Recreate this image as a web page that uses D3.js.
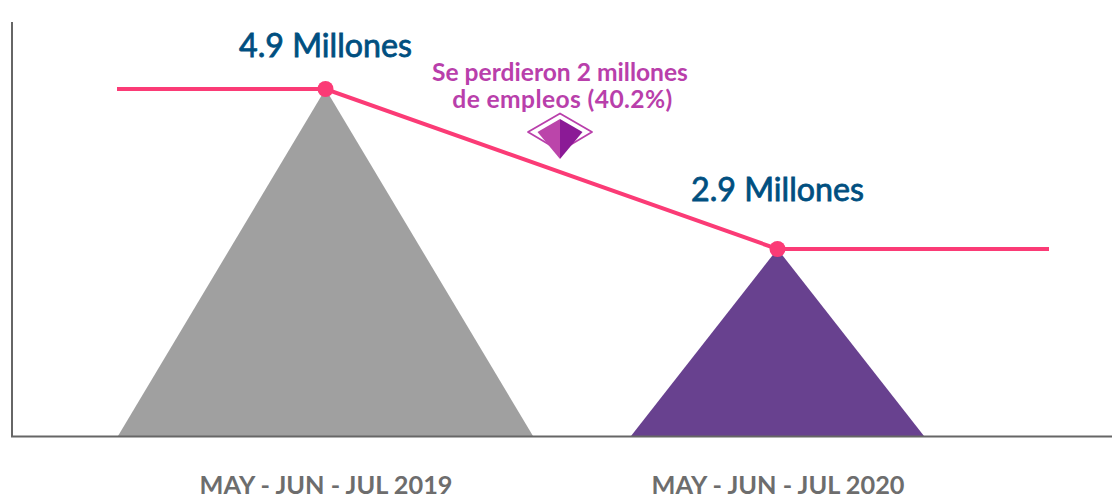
<!DOCTYPE html>
<html lang="es">
<head>
<meta charset="utf-8">
<script src="https://cdn.jsdelivr.net/npm/d3@7/dist/d3.min.js"></script>
<style>
html, body { margin: 0; padding: 0; background: #fff; }
svg { display: block; font-family: Lato, sans-serif; }
</style>
</head>
<body>
<svg id="chart" width="1112" height="494"></svg>
<script>
// Employment in millions for the two compared quarters
const periods = ["MAY - JUN - JUL 2019", "MAY - JUN - JUL 2020"];
const employment = [4.9, 2.9];
const valueLabels = ["4.9 Millones", "2.9 Millones"];
const triangleColors = ["#a0a0a0", "#68418f"];
const noteLines = ["Se perdieron 2 millones", "de empleos (40.2%)"];

const svg = d3.select("#chart");

const x = d3.scalePoint().domain(periods).range([325.5, 777.5]);
// The vertical axis is truncated, so its origin sits above zero
const y = d3.scaleLinear().domain([0.5625, 4.9]).range([436, 89]);
const baseWidth = d3.scaleLinear().domain([2.9, 4.9]).range([293, 415]);

const rows = periods.map((period, i) => ({
  period, value: employment[i], label: valueLabels[i], color: triangleColors[i]
}));

// Triangles rising from the baseline to each value
const triangle = d3.line();
svg.append("g").selectAll("path").data(rows).join("path")
  .attr("fill", d => d.color)
  .attr("d", d => {
    const half = baseWidth(d.value) / 2, cx = x(d.period);
    return triangle([[cx - half, y.range()[0]], [cx, y(d.value)], [cx + half, y.range()[0]]]) + "Z";
  });

// Axes
const bottomAxis = d3.axisBottom(x).tickSize(0).tickSizeOuter(0).tickPadding(39.5);
const gx = svg.append("g").attr("transform", "translate(0,436.5)").call(bottomAxis);
gx.select(".domain").attr("d", "M11,0H1112").attr("stroke", "#666").attr("stroke-width", 2);
gx.selectAll("text")
  .attr("fill", "#6d6d6d").attr("font-family", "Lato, sans-serif")
  .attr("font-size", 25.3).attr("font-weight", 700);

const leftAxis = d3.axisLeft(y).tickValues([]).tickSizeOuter(0);
const gy = svg.append("g").attr("transform", "translate(12,0)").call(leftAxis);
gy.select(".domain").attr("d", "M0,22V437").attr("stroke", "#666").attr("stroke-width", 2);

// Trend line running past both peaks
const trend = d3.line().x(d => d[0]).y(d => d[1]);
svg.append("path")
  .attr("fill", "none").attr("stroke", "#fb3b76").attr("stroke-width", 4)
  .attr("d", trend([
    [117, y(employment[0])],
    [x(periods[0]), y(employment[0])],
    [x(periods[1]), y(employment[1])],
    [1049, y(employment[1])]
  ]));

svg.append("g").selectAll("circle").data(rows).join("circle")
  .attr("cx", d => x(d.period)).attr("cy", d => y(d.value)).attr("r", 8)
  .attr("fill", "#fb3b76");

// Value labels over the peaks
svg.append("g").selectAll("text").data(rows).join("text")
  .attr("x", d => x(d.period))
  .attr("y", (d, i) => i ? 201 : 57)
  .attr("text-anchor", "middle")
  .attr("fill", "#004f80").attr("stroke", "#004f80").attr("stroke-width", 0.8)
  .attr("font-size", 32.2).attr("font-weight", 400)
  .text(d => d.label);

// Note about the drop
svg.append("g").selectAll("text").data(noteLines).join("text")
  .attr("x", (d, i) => i ? 562.5 : 560)
  .attr("y", (d, i) => 81 + i * 27)
  .attr("text-anchor", "middle")
  .attr("fill", "#b93fab").attr("font-size", 24.6).attr("font-weight", 700)
  .attr("letter-spacing", (d, i) => i ? 0.4 : 0)
  .text(d => d);

// Diamond emblem under the note
const emblem = svg.append("g").attr("transform", "translate(560,0)");
emblem.append("path")
  .attr("d", "M0,113.5 L32,132 L0,151 L-32,132 Z")
  .attr("fill", "#fff").attr("stroke", "#b93fab").attr("stroke-width", 1.8)
  .attr("stroke-linejoin", "round");
emblem.append("path").attr("d", "M0,119 L-22.5,132 L0,159 Z").attr("fill", "#bb45aa");
emblem.append("path").attr("d", "M0,119 L22.5,132 L0,159 Z").attr("fill", "#8b1a96");
</script>
</body>
</html>
